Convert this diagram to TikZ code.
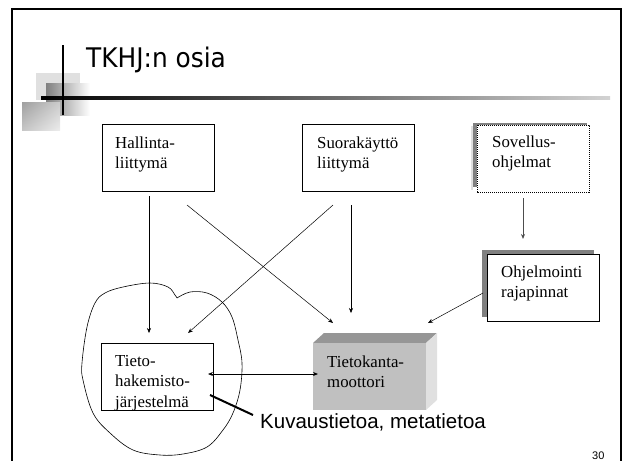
\documentclass[tikz,border=0pt]{standalone}
\usepackage{fontspec}
\setmainfont{Liberation Serif}
\newfontfamily\labelsans{Liberation Sans}
\newfontfamily\titlesans{DejaVu Sans}
\usetikzlibrary{arrows.meta,shadings}
\definecolor{frontgray}{HTML}{C0C0C0}
\definecolor{topgray}{HTML}{969696}
\definecolor{sidegray}{HTML}{E0E0E0}
\definecolor{shadowgray}{HTML}{808080}
\newcommand{\twolines}[2]{\vtop{\hbox{#1}\hbox{#2}}}
\newcommand{\threelines}[3]{\vtop{\hbox{#1}\hbox{#2}\hbox{#3}}}
\tikzset{
  box/.style={draw=black, line width=0.6pt, fill=white, inner sep=0pt, outer sep=0pt, anchor=north west, minimum width=112pt, minimum height=67pt},
  boxtext/.style={anchor=base west, inner sep=0pt, font=\fontsize{16.8}{20.5}\selectfont},
  conn/.style={line width=0.5pt, -{Stealth[length=5pt,width=4pt]}},
}
\begin{document}
\begin{tikzpicture}[x=1pt,y=-1pt]
\useasboundingbox (0,0) rectangle (622,461);
% slide frame
\draw[line width=2.2pt] (12,461) -- (12,9) -- (621,9) -- (621,461);
% title decoration
\fill[sidegray] (36,73) rectangle (80,100);
\shade[left color=shadowgray, right color=white] (46,83) rectangle (90,115);
\shade[upper left=gray!75, lower right=gray!15, upper right=gray!40, lower left=gray!45] (22,102) rectangle (60,130);
\shade[left color=black, right color=gray!35] (41,96.5) rectangle (610,99.5);
\draw[line width=2pt] (62.5,45) -- (62.5,115);
\node[anchor=base west, inner sep=0pt, font=\titlesans\fontsize{27}{30}\selectfont] (title) at (86,67) {\scalebox{0.92}[1]{TKHJ:n osia}};
% cloud
\draw[line width=0.6pt] plot[smooth, tension=0.6] coordinates {
 (177,298) (190,292) (207,293) (222,302) (232,317) (238,340) (242,363) (240,390)
 (233,413) (223,430) (207,447) (183,454) (160,455) (133,450) (110,433) (93,413)
 (83,380) (82,363) (87,327) (95,303) (105,293) (123,287) (150,283) (168,287) (175,295) (177,298)};
% boxes
\node[box] (hal) at (102,124) {};
\node[boxtext] (halT) at (115,148) {\twolines{Hallinta-}{liittymä}};
\node[box] (suo) at (302,124) {};
\node[boxtext] (suoT) at (317,148) {\twolines{Suorakäyttö}{liittymä}};
\fill[shadowgray] (473,123) rectangle (587,187);
\fill[sidegray] (471,126) rectangle (473,190);
\node[box, draw=none] (sov) at (477,125) {};
\draw[line width=0.6pt, dash pattern=on 1.2pt off 0.8pt] (sov.north west) rectangle (sov.south east);
\node[boxtext] (sovT) at (492,147) {\twolines{Sovellus-}{ohjelmat}};
\fill[shadowgray] (482,250) rectangle (594,317);
\node[box] (ohj) at (487,254) {};
\node[boxtext] (ohjT) at (501,277) {\twolines{Ohjelmointi}{rajapinnat}};
% 3D box
\fill[topgray] (313,343) -- (324,333) -- (437,333) -- (426,343) -- cycle;
\fill[sidegray] (426,343) -- (437,333) -- (437,400) -- (426,410) -- cycle;
\node[box, draw=none, fill=frontgray, minimum width=113pt] (tk) at (313,343) {};
\node[boxtext] (tkT) at (327,367) {\twolines{Tietokanta-}{moottori}};
\node[box, fill=none, minimum height=67pt] (th) at (101,343) {};
\node[boxtext] (thT) at (115,366) {\threelines{Tieto-}{hakemisto-}{järjestelmä}};
% connectors
\coordinate (a1s) at (149,196); \coordinate (a1e) at (149,333);
\coordinate (a2s) at (187,205); \coordinate (a2e) at (333,323);
\coordinate (a3s) at (333,205); \coordinate (a3e) at (188,333);
\coordinate (a4s) at (351,205); \coordinate (a4e) at (351,313);
\coordinate (a5s) at (523,198); \coordinate (a5e) at (523,239);
\coordinate (a6s) at (483,293); \coordinate (a6e) at (428,323);
\coordinate (a7s) at (208,374); \coordinate (a7e) at (318,374);
\draw[conn] (a1s) -- (a1e);
\draw[conn] (a2s) -- (a2e);
\draw[conn] (a3s) -- (a3e);
\draw[conn] (a4s) -- (a4e);
\draw[conn, line width=1pt, draw=shadowgray!60!black] (a5s) -- (a5e);
\draw[conn] (a6s) -- (a6e);
\draw[line width=0.8pt, {Stealth[length=5pt,width=4pt]}-{Stealth[length=5pt,width=4pt]}] (a7s) -- (a7e);
% label
\coordinate (ks) at (210,395);
\node[anchor=base west, inner sep=0pt, font=\labelsans\fontsize{20.5}{24}\selectfont] (kuv) at (260,428) {Kuvaustietoa, metatietoa};
\draw[line width=2pt] (ks) -- (253,415);
\node[anchor=base west, inner sep=0pt, font=\labelsans\fontsize{11}{13}\selectfont] (num) at (592,459) {30};
\end{tikzpicture}
\end{document}
